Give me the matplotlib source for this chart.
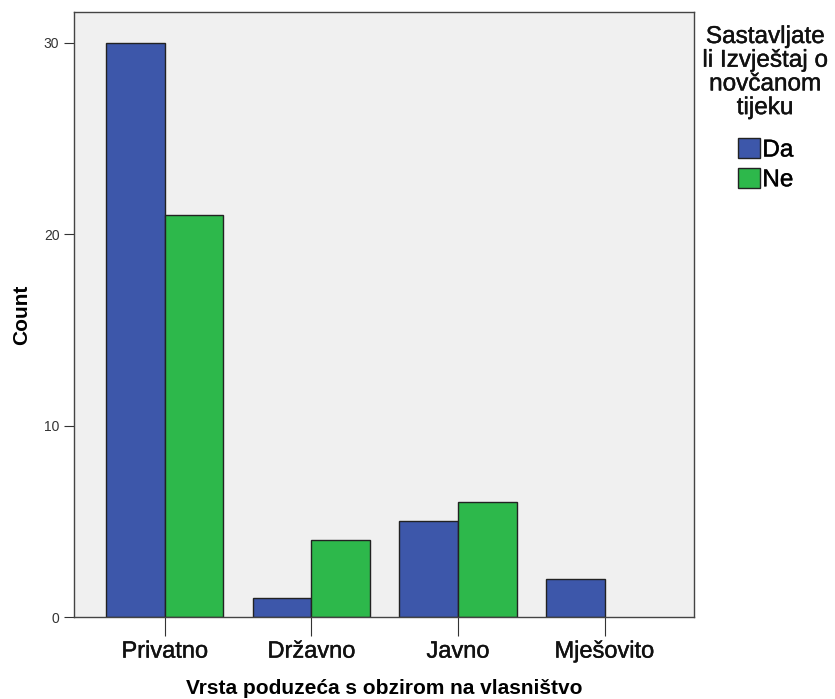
import numpy as np
import matplotlib.pyplot as plt
import matplotlib.patheffects as pe
from matplotlib.patches import Patch

# Data
categories = ["Privatno", "Državno", "Javno", "Mješovito"]
da_counts = [30, 1, 5, 2]
ne_counts = [21, 4, 6, 0]
series_names = ["Da", "Ne"]
legend_title = "Sastavljate\nli Izvještaj o\nnovčanom\ntijeku"

plt.rcParams["font.family"] = ["Liberation Sans", "DejaVu Sans"]

blue = "#3d57aa"
green = "#2db84b"
# slight stroke to get the heavier look of the original rendering
heavy = [pe.withStroke(linewidth=0.3, foreground="#111111")]

fig = plt.figure(figsize=(8.35, 6.99), dpi=100)
ax = fig.add_axes([0.0886, 0.1173, 0.7425, 0.8655])
ax.set_facecolor("#f0f0f0")

x = np.arange(len(categories))
w = 0.40
ax.bar(x - w / 2, da_counts, w, color=blue, edgecolor="#222222", linewidth=1.0, zorder=2)
# zero-count bars are not drawn
ne_x = [xi + w / 2 for xi, v in zip(x, ne_counts) if v > 0]
ne_v = [v for v in ne_counts if v > 0]
ax.bar(ne_x, ne_v, w, color=green, edgecolor="#222222", linewidth=1.0, zorder=2)

ax.set_xlim(-0.62, 3.61)
ax.set_ylim(0, 31.6)
ax.set_yticks([0, 10, 20, 30])
ax.set_xticks(x)
ax.set_xticklabels(categories, fontsize=17, color="#111111")
for t in ax.get_xticklabels():
    t.set_path_effects(heavy)
ax.tick_params(axis="y", length=7, labelsize=10, labelcolor="#333333", color="#333333")
ax.tick_params(axis="x", length=14, color="#333333", pad=3)
for s in ax.spines.values():
    s.set_color("#444444")
    s.set_linewidth(1.0)

ax.set_ylabel("Count", fontsize=15, fontweight="bold", labelpad=9)
ax.set_xlabel("Vrsta poduzeća s obzirom na vlasništvo", fontsize=15, fontweight="bold", labelpad=12)

# legend title as its own text block, entries below it
fig.text(765 / 835, 1 - 26 / 699, legend_title, ha="center", va="top",
         fontsize=17.5, color="#111111", linespacing=1.1, multialignment="center",
         path_effects=heavy)
handles = [Patch(facecolor=blue, edgecolor="#222222"), Patch(facecolor=green, edgecolor="#222222")]
leg = fig.legend(handles, series_names, loc="upper left",
                 bbox_to_anchor=(738 / 835, 1 - 138 / 699), frameon=False,
                 fontsize=17.5, handlelength=0.9, handleheight=0.9,
                 handletextpad=0.1, labelspacing=0.26, borderpad=0, borderaxespad=0)
for t in leg.get_texts():
    t.set_path_effects(heavy)

fig.savefig("out.png", dpi=100)
